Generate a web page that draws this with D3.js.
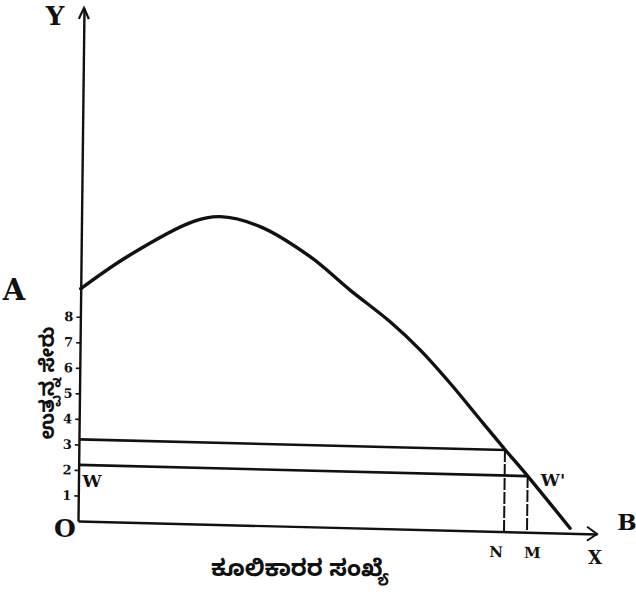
<!DOCTYPE html>
<html>
<head>
<meta charset="utf-8">
<script src="https://cdn.jsdelivr.net/npm/d3@7"></script>
<style>
  html, body { margin: 0; padding: 0; background: #fff; }
  svg { display: block; }
  .lbl { font-family: "DejaVu Serif", "Liberation Serif", serif; font-weight: bold; fill: #111; }
  .kn { font-family: "Noto Sans Kannada", "Noto Sans", "DejaVu Sans", sans-serif; font-weight: bold; fill: #111; }
</style>
</head>
<body>
<svg id="chart" width="636" height="594"></svg>
<script>
// ---- data ----
const yTickValues = [1, 2, 3, 4, 5, 6, 7, 8];
const curveX = [0, 4.6, 11.15, 13.84, 17.86, 22.9, 26.9, 31.0, 34.0, 37.0, 40.4, 42.6, 44.9, 49.2];
const curveY = [9.1, 10.4, 11.84, 12.06, 11.71, 10.58, 9.32, 8.1, 7.04, 5.78, 4.22, 3.22, 2.2, 0.2];
const wageLevels = [3.2, 2.2];          // upper and lower wage lines
const employment = [42.6, 44.9];        // N and M on the x axis
const xTickLabels = ["N", "M"];
const xMax = 51.9, yMax = 20.1;
const xAxisTitle = "ಕೂಲಿಕಾರರ ಸಂಖ್ಯೆ";
const yAxisTitle = "ಉತ್ಪನ್ನ ಸೇರು";

// ---- layout ----
const svg = d3.select("#chart");
const ox = 78, oy = 521;
const x = d3.scaleLinear().domain([0, xMax]).range([0, 519]);
const y = d3.scaleLinear().domain([0, yMax]).range([0, -513]);

// the hand-drawn figure is slightly skewed
const g = svg.append("g").attr("transform", `matrix(1,0.025,-0.0117,1,${ox},${oy})`);

const ink = "#111";

// y axis
const yAxis = g.append("g")
  .call(d3.axisLeft(y).tickValues(yTickValues).tickSizeInner(4).tickSizeOuter(0).tickPadding(3));
yAxis.select(".domain").attr("stroke", ink).attr("stroke-width", 2.4);
yAxis.selectAll(".tick line").attr("stroke", ink).attr("stroke-width", 1.6);
yAxis.selectAll(".tick text").attr("class", "lbl").style("font-size", "13px");

// x axis
const xAxis = g.append("g")
  .call(d3.axisBottom(x).tickValues(employment).tickFormat((d, i) => xTickLabels[i])
    .tickSizeInner(0).tickSizeOuter(0).tickPadding(15));
xAxis.select(".domain").attr("stroke", ink).attr("stroke-width", 2.4);
xAxis.selectAll(".tick text").attr("class", "lbl").style("font-size", "15px")
  .attr("dx", (d, i) => i === 0 ? -8 : 5);

// arrowheads
g.append("path")
  .attr("d", `M${x(0) - 5},${y(yMax) + 11} Q${x(0) - 1},${y(yMax) + 2} ${x(0)},${y(yMax)} Q${x(0) + 1},${y(yMax) + 2} ${x(0) + 5},${y(yMax) + 11}`)
  .attr("fill", "none").attr("stroke", ink).attr("stroke-width", 2.2);
g.append("path")
  .attr("d", `M${x(xMax) - 10},${y(0) - 7} L${x(xMax)},${y(0)} L${x(xMax) - 10},${y(0) + 7}`)
  .attr("fill", "none").attr("stroke", ink).attr("stroke-width", 2);

// wage lines (horizontal) and employment lines (vertical)
wageLevels.forEach((w, i) => {
  g.append("line")
    .attr("x1", x(0)).attr("y1", y(w))
    .attr("x2", x(employment[i])).attr("y2", y(w))
    .attr("stroke", ink).attr("stroke-width", 2.6);
  g.append("line")
    .attr("x1", x(employment[i])).attr("y1", y(w))
    .attr("x2", x(employment[i])).attr("y2", y(0))
    .attr("stroke", ink).attr("stroke-width", 2)
    .attr("stroke-dasharray", "12,2");
});

// curve
const pts = curveX.map((d, i) => [d, curveY[i]]);
g.append("path")
  .datum(pts)
  .attr("d", d3.line().x(d => x(d[0])).y(d => y(d[1])).curve(d3.curveCatmullRom.alpha(0.5)))
  .attr("fill", "none").attr("stroke", ink).attr("stroke-width", 3.4)
  .attr("stroke-linecap", "round").attr("stroke-linejoin", "round");

// letter annotations
const txt = (s, tx, ty, size, anchor = "middle") =>
  svg.append("text").attr("class", "lbl").attr("x", tx).attr("y", ty)
    .attr("text-anchor", anchor).style("font-size", size + "px").text(s);
txt("Y", 55, 25, 26);
txt("A", 14, 300, 29);
txt("O", 65, 537, 25);
txt("W", 92, 487, 17);
txt("W'", 553, 486, 17);
txt("B", 627, 530, 23);
txt("X", 595, 564, 18);

// axis titles
svg.append("text").attr("class", "kn").attr("x", 300).attr("y", 576)
  .attr("text-anchor", "middle").style("font-size", "23px").text(xAxisTitle);
svg.append("text").attr("class", "kn")
  .attr("transform", "translate(54,383) rotate(-90)")
  .attr("text-anchor", "middle").style("font-size", "20px").text(yAxisTitle);
</script>
</body>
</html>
